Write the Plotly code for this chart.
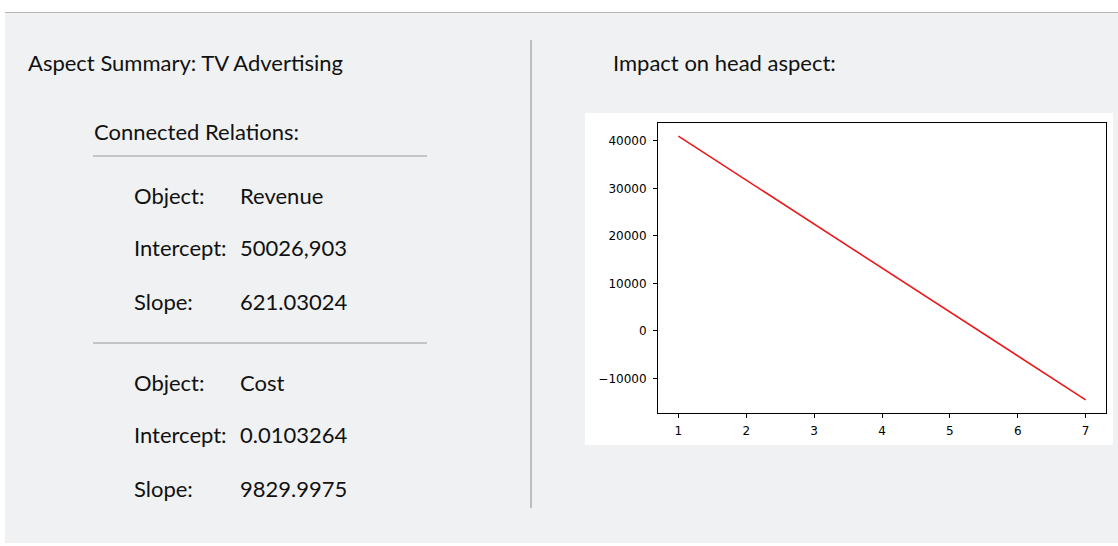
import plotly.graph_objects as go

W, H = 1118, 546

# Data
x_vals = [1, 7]
y_vals = [41000, -14500]
x_ticks = [1, 2, 3, 4, 5, 6, 7]
y_ticks = [-10000, 0, 10000, 20000, 30000, 40000]
y_tick_labels = ["\u221210000", "0", "10000", "20000", "30000", "40000"]

title_left = "Aspect Summary: TV Advertising"
title_right = "Impact on head aspect:"
section_title = "Connected Relations:"
labels_1 = ["Object:", "Intercept:", "Slope:"]
values_1 = ["Revenue", "50026,903", "621.03024"]
labels_2 = ["Object:", "Intercept:", "Slope:"]
values_2 = ["Cost", "0.0103264", "9829.9975"]


def px(x):
    return x / W


def py(y):
    return 1 - y / H


BG = "#f0f1f2"
FONT = "Lato"
TXT = "#111111"

fig = go.Figure()
fig.add_trace(go.Scatter(x=x_vals, y=y_vals, mode="lines",
                         line=dict(color="#e8191c", width=1.6),
                         showlegend=False, hoverinfo="skip"))

shapes = []
# white top strip and separator
shapes.append(dict(type="rect", xref="paper", yref="paper", x0=0, x1=1, y0=py(12), y1=1,
                   fillcolor="white", line=dict(width=0), layer="below"))
shapes.append(dict(type="rect", xref="paper", yref="paper", x0=0, x1=px(5), y0=0, y1=1,
                   fillcolor="white", line=dict(width=0), layer="below"))
shapes.append(dict(type="rect", xref="paper", yref="paper", x0=0, x1=1, y0=0, y1=py(543),
                   fillcolor="white", line=dict(width=0), layer="below"))
shapes.append(dict(type="line", xref="paper", yref="paper", x0=px(5), x1=1, y0=py(12.5), y1=py(12.5),
                   line=dict(color="#b5b5b5", width=1.2)))
# vertical divider
shapes.append(dict(type="line", xref="paper", yref="paper", x0=px(531), x1=px(531), y0=py(40), y1=py(508),
                   line=dict(color="#8a8a8a", width=1)))
# horizontal rules
for yy in (156, 343):
    shapes.append(dict(type="line", xref="paper", yref="paper", x0=px(93), x1=px(427), y0=py(yy), y1=py(yy),
                       line=dict(color="#9a9a9a", width=1)))
# white chart box
shapes.append(dict(type="rect", xref="paper", yref="paper", x0=px(585), x1=px(1113), y0=py(445), y1=py(113),
                   fillcolor="white", line=dict(width=0), layer="below"))

ann = []


def text(x, y, s, size=22):
    ann.append(dict(xref="paper", yref="paper", x=px(x), y=py(y), text=s, showarrow=False,
                    xanchor="left", yanchor="middle", font=dict(family=FONT, size=size, color=TXT)))


text(26, 62, title_left)
text(611, 62, title_right)
text(92, 131, section_title)
for i, (lab, val) in enumerate(zip(labels_1, values_1)):
    yy = 195 + i * 53
    text(132, yy, lab)
    text(238, yy, val)
for i, (lab, val) in enumerate(zip(labels_2, values_2)):
    yy = 382 + i * 53
    text(132, yy, lab)
    text(238, yy, val)

axis_font = dict(family="DejaVu Sans", size=12, color="black")
fig.update_layout(
    width=W, height=H,
    margin=dict(l=0, r=0, t=0, b=0),
    paper_bgcolor=BG, plot_bgcolor="white",
    shapes=shapes, annotations=ann,
    xaxis=dict(domain=[px(658), px(1106)], range=[0.7, 7.3], tickvals=x_ticks,
               ticks="outside", ticklen=4, tickcolor="black", showgrid=False, zeroline=False,
               showline=True, linecolor="black", linewidth=1, mirror=True, tickfont=axis_font,
               ticklabelstandoff=3, anchor="y"),
    yaxis=dict(domain=[py(413), py(123)], range=[-17275, 43775], tickvals=y_ticks, ticktext=y_tick_labels,
               ticks="outside", ticklen=4, tickcolor="black", showgrid=False, zeroline=False,
               showline=True, linecolor="black", linewidth=1, mirror=True, tickfont=axis_font,
               ticklabelstandoff=4, anchor="x"),
)

fig.write_html("out.html", config={"displayModeBar": False},
               post_script="document.body.style.margin='0';document.body.style.overflow='hidden';")
